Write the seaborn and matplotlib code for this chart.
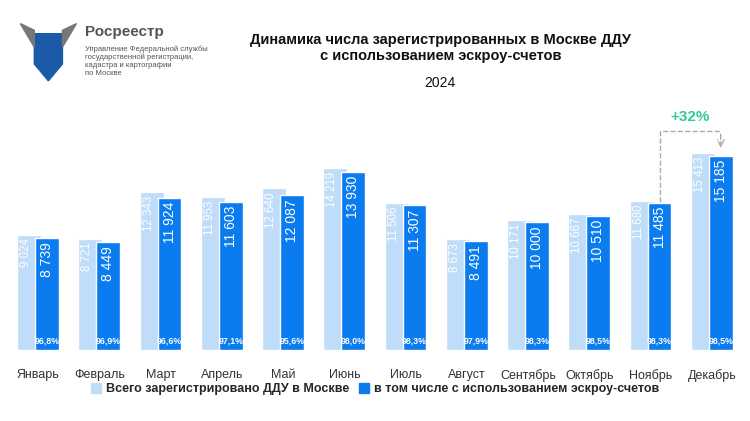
import matplotlib
matplotlib.use("Agg")
import matplotlib.pyplot as plt
import seaborn as sns
import numpy as np

months = ["Январь","Февраль","Март","Апрель","Май","Июнь","Июль","Август","Сентябрь","Октябрь","Ноябрь","Декабрь"]
total = [9024, 8721, 12343, 11953, 12640, 14219, 11506, 8673, 10171, 10667, 11680, 15413]
escrow = [8739, 8449, 11924, 11603, 12087, 13930, 11307, 8491, 10000, 10510, 11485, 15185]
shares = ["96,8%","96,9%","96,6%","97,1%","95,6%","98,0%","98,3%","97,9%","98,3%","98,5%","98,3%","98,5%"]

LIGHT = "#bfdcf8"; DARK = "#0a7cf0"
sns.set_theme(style="white", font="Liberation Sans")
fig = plt.figure(figsize=(7.5, 4.21), dpi=100)
ax = fig.add_axes([0.01, 0.1686, 0.98, 0.594])

n = len(months)
x = np.arange(n)
w = 0.39
ax.bar(x - 0.343, total, width=w, align="edge", color=LIGHT, zorder=2)
ax.bar(x - 0.05, escrow, width=w, align="edge", color=DARK, zorder=3)
ax.set_xticks(x, months)
ax.set_xlim(-0.5, n - 0.5)
ax.set_ylim(0, 19560)
ax.set_yticks([])
sns.despine(ax=ax, left=True, bottom=True)
ax.tick_params(axis="x", length=0, labelsize=9, colors="#333333", pad=14)

def fmt(v):
    return f"{v:,}".replace(",", " ")
for i in range(n):
    ax.text(i - 0.343 + 0.146, total[i] - 300, fmt(total[i]), rotation=90, ha="center", va="top",
            color="white", fontsize=8.3, zorder=4)
    ax.text(i - 0.05 + w/2, escrow[i] - 300, fmt(escrow[i]), rotation=90, ha="center", va="top",
            color="white", fontsize=10, zorder=4)
    ax.text(i - 0.05 + w/2, 350, shares[i], ha="center", va="bottom", color="white",
            fontsize=6.3, fontweight="bold", zorder=4)

x1 = 10 - 0.05 + w/2; x2 = 11 - 0.05 + w/2
ytop = 17100
ax.plot([x1, x1, x2], [escrow[10] + 100, ytop, ytop], ls="--", color="#aaaaaa", lw=1, clip_on=False)
ax.annotate("", xy=(x2, escrow[11] + 400), xytext=(x2, ytop),
            arrowprops=dict(arrowstyle="->", ls="--", color="#aaaaaa", lw=1), annotation_clip=False)
ax.text((x1 + x2) / 2, ytop + 600, "+32%", ha="center", va="bottom", color="#2ecc8f",
        fontsize=11, fontweight="bold")

fig.text(0.587, 0.886, "Динамика числа зарегистрированных в Москве ДДУ\nс использованием эскроу-счетов",
         ha="center", va="center", fontsize=10.5, fontweight="bold", color="#111111", linespacing=1.25)
fig.text(0.587, 0.803, "2024", ha="center", va="center", fontsize=10, color="#111111")

fig.text(0.113, 0.925, "Росреестр", ha="left", va="center", fontsize=11, fontweight="bold", color="#555555")
fig.text(0.113, 0.855, "Управление Федеральной службы\nгосударственной регистрации,\nкадастра и картографии\nпо Москве",
         ha="left", va="center", fontsize=5.5, color="#555555", linespacing=1.15)
logo = fig.add_axes([0.027, 0.8, 0.075, 0.16]); logo.axis("off")
logo.add_patch(plt.Polygon([[0.25, 0.75], [0.75, 0.75], [0.75, 0.3], [0.5, 0.05], [0.25, 0.3]], color="#1a5aa8"))
logo.add_patch(plt.Polygon([[0.0, 0.9], [0.25, 0.55], [0.25, 0.8]], color="#777777"))
logo.add_patch(plt.Polygon([[1.0, 0.9], [0.75, 0.55], [0.75, 0.8]], color="#777777"))
logo.set_xlim(0, 1); logo.set_ylim(0, 1)

from matplotlib.patches import Patch
fig.legend(handles=[Patch(color=LIGHT, label="Всего зарегистрировано ДДУ в Москве"),
                    Patch(color=DARK, label="в том числе с использованием эскроу-счетов")],
           loc="center", bbox_to_anchor=(0.5, 0.076), ncol=2, frameon=False,
           prop={"weight": "bold", "size": 9}, handlelength=0.8, handleheight=0.8,
           handletextpad=0.4, columnspacing=0.8)
fig.savefig("out.png", dpi=100, facecolor="white")
